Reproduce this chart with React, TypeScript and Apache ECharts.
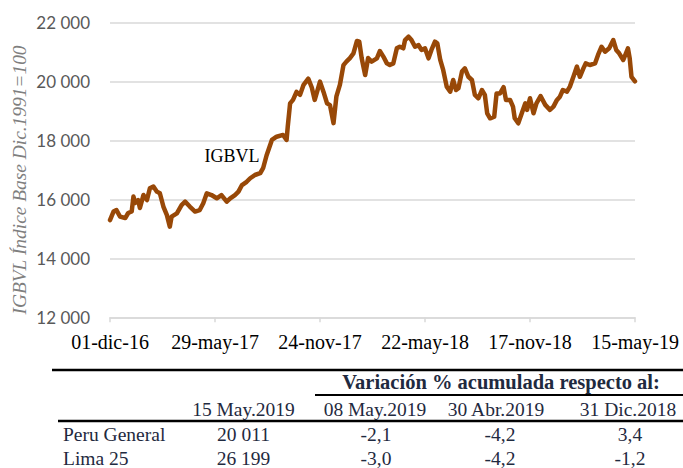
import React, { useEffect, useRef } from "react";
import * as echarts from "echarts";

// ---------- data ----------
const START_DATE = "2016-12-01";
const TOTAL_DAYS = 895; // 01-dic-16 .. 15-may-19
const TICK_STEP_DAYS = 179;

// days since START_DATE
const dayOffsets = [
  0, 6, 11, 17, 26, 31, 37, 40, 43, 48, 51, 57, 63, 68, 74, 80, 85, 91, 97, 102,
  105, 114, 122, 128, 136, 145, 153, 159, 165, 173, 182, 190, 199, 205, 213, 219, 225, 233, 239, 247,
  256, 261, 267, 276, 284, 295, 301, 303, 307, 312, 318, 324, 330, 338, 344, 349, 358, 364, 370, 375,
  381, 386, 392, 398, 403, 409, 415, 421, 425, 429, 435, 440, 446, 455, 460, 466, 472, 477, 483, 489,
  494, 500, 503, 509, 514, 520, 526, 531, 537, 543, 548, 554, 558, 563, 568, 574, 580, 585, 590, 594,
  600, 605, 611, 617, 622, 628, 634, 639, 643, 648, 655, 659, 665, 671, 675, 682, 687, 690, 696, 702,
  708, 711, 716, 722, 727, 734, 742, 750, 756, 762, 767, 772, 779, 784, 790, 796, 801, 807, 811, 818,
  827, 832, 838, 844, 851, 858, 863, 868, 875, 883, 886, 889, 895,
];

const igbvlValues = [
  15300, 15590, 15640, 15420, 15370, 15540, 15590, 16100, 15880, 15980, 15710, 16150, 15980, 16380, 16440, 16265, 16210, 15760, 15470, 15076,
  15420, 15530, 15810, 15925, 15760, 15590, 15640, 15870, 16210, 16150, 16040, 16150, 15925, 16040, 16150, 16265, 16490, 16600, 16720, 16830,
  16890, 17060, 17500, 18020, 18130, 18190, 18020, 18470, 19260, 19380, 19650, 19550, 19890, 20100, 19800, 19380, 20000, 19650, 19260, 19200,
  18590, 19500, 19900, 20560, 20680, 20800, 20960, 21380, 21355, 20800, 20225, 20800, 20680, 20790, 21040, 20850, 20620, 20565, 20620, 21130,
  21185, 21130, 21410, 21525, 21410, 21185, 21240, 21075, 21130, 20790, 21075, 21355, 21300, 20735, 20395, 19830, 19660, 20055, 19715, 19775,
  20340, 20450, 20165, 20055, 19550, 19435, 19715, 19550, 18925, 18755, 18810, 19600, 19600, 19810, 19380, 19380, 19150, 18755, 18585, 18925,
  19265, 19040, 19435, 18925, 19265, 19510, 19210, 19040, 19150, 19380, 19490, 19715, 19660, 19830, 20165, 20510, 20165, 20450, 20620, 20565,
  20620, 20905, 21185, 21015, 21130, 21410, 21075, 20960, 20735, 21130, 20790, 20165, 20011,
];

const yTicks = { min: 12000, max: 22000, interval: 2000 };
const monthsEs = ["ene", "feb", "mar", "abr", "may", "jun", "jul", "ago", "sep", "oct", "nov", "dic"];

const seriesLabel = "IGBVL";
const yAxisTitle = "IGBVL Índice Base Dic.1991=100";

// table
const tableGroupTitle = "Variación % acumulada respecto al:";
const tableHeaders = ["15 May.2019", "08 May.2019", "30 Abr.2019", "31 Dic.2018"];
const tableRowNames = ["Peru General", "Lima 25"];
const tableLevels = ["20 011", "26 199"];
const tableVarWeek = ["-2,1", "-3,0"];
const tableVarMonth = ["-4,2", "-4,2"];
const tableVarYear = ["3,4", "-1,2"];

// ---------- helpers ----------
const startMs = Date.parse(START_DATE + "T00:00:00Z");
function fmtDay(offset: number): string {
  const d = new Date(startMs + offset * 86400000);
  const dd = String(d.getUTCDate()).padStart(2, "0");
  const mm = monthsEs[d.getUTCMonth()];
  const yy = String(d.getUTCFullYear() % 100).padStart(2, "0");
  return `${dd}-${mm}-${yy}`;
}
function fmtThousands(v: number): string {
  return String(v).replace(/\B(?=(\d{3})+(?!\d))/g, " ");
}

const SERIF = "'Liberation Serif', 'Times New Roman', serif";
const TABLE_COLOR = "#1f2a40";

function txt(text: string, x: number, y: number, font: string, fill: string, align = "center", extra: any = {}) {
  return {
    type: "text",
    x,
    y,
    ...extra,
    style: {
      text,
      x: 0,
      y: 0,
      font,
      fill,
      align,
      verticalAlign: "middle",
      textAlign: align,
      textVerticalAlign: "middle",
    },
  };
}

function hline(x1: number, x2: number, y: number, w: number) {
  return {
    type: "line",
    shape: { x1, y1: y, x2, y2: y },
    style: { stroke: "#000", lineWidth: w },
  };
}

export default function App() {
  const ref = useRef<HTMLDivElement>(null);
  useEffect(() => {
    if (!ref.current) return;
    const chart = echarts.init(ref.current, null, { renderer: "svg" });

    const colX = [243.5, 375, 496, 628];
    const tableFontR = `19.5px ${SERIF}`;
    const graphics: any[] = [
      txt(seriesLabel, 232, 156, `18px ${SERIF}`, "#000"),
      txt(yAxisTitle, 19, 180, `italic 19.4px ${SERIF}`, "#7f7f7f", "center", { rotation: Math.PI / 2 }),
      hline(52, 683, 370, 2.7),
      hline(315, 683, 395, 2),
      hline(58, 683, 421, 2.7),
      txt(tableGroupTitle, 501, 382, `bold 20.5px ${SERIF}`, TABLE_COLOR),
    ];
    tableHeaders.forEach((h, i) => graphics.push(txt(h, colX[i], 409, tableFontR, TABLE_COLOR)));
    const rowY = [434, 458];
    tableRowNames.forEach((name, r) => {
      graphics.push(txt(name, 63, rowY[r], tableFontR, TABLE_COLOR, "left"));
      graphics.push(txt(tableLevels[r], 243.5, rowY[r], tableFontR, TABLE_COLOR));
      graphics.push(txt(tableVarWeek[r], 376, rowY[r], tableFontR, TABLE_COLOR));
      graphics.push(txt(tableVarMonth[r], 500, rowY[r], tableFontR, TABLE_COLOR));
      graphics.push(txt(tableVarYear[r], 630, rowY[r], tableFontR, TABLE_COLOR));
    });

    chart.setOption({
      animation: false,
      backgroundColor: "#ffffff",
      grid: { left: 110, right: 48, top: 22.7, bottom: 150.7, containLabel: false },
      xAxis: {
        type: "value",
        min: 0,
        max: TOTAL_DAYS,
        interval: TICK_STEP_DAYS,
        axisLine: { show: true, lineStyle: { color: "#d9d9d9", width: 1.5 } },
        axisTick: { show: true, length: 5, lineStyle: { color: "#d9d9d9", width: 1.5 } },
        splitLine: { show: false },
        axisLabel: {
          formatter: (v: number) => fmtDay(v),
          fontFamily: SERIF,
          fontSize: 20,
          color: "#000",
          margin: 15,
          showMinLabel: true,
          showMaxLabel: true,
        },
      },
      yAxis: {
        type: "value",
        min: yTicks.min,
        max: yTicks.max,
        interval: yTicks.interval,
        axisLine: { show: false },
        axisTick: { show: false },
        splitLine: { show: true, lineStyle: { color: "#d9d9d9", width: 1.5 } },
        axisLabel: {
          formatter: (v: number) => fmtThousands(v),
          fontFamily: "Lato, 'Noto Sans', sans-serif",
          fontSize: 17,
          color: "#595959",
          margin: 20,
        },
      },
      series: [
        {
          type: "line",
          name: seriesLabel,
          data: dayOffsets.map((d, i) => [d, igbvlValues[i]]),
          showSymbol: false,
          symbol: "none",
          lineStyle: { color: "#984807", width: 4.5, join: "round", cap: "round" },
          itemStyle: { color: "#984807" },
        },
      ],
      graphic: graphics,
    });
    return () => chart.dispose();
  }, []);

  return (
    <div
      ref={ref}
      style={{ position: "absolute", left: 0, top: 0, width: 683, height: 468, background: "#fff" }}
    />
  );
}
